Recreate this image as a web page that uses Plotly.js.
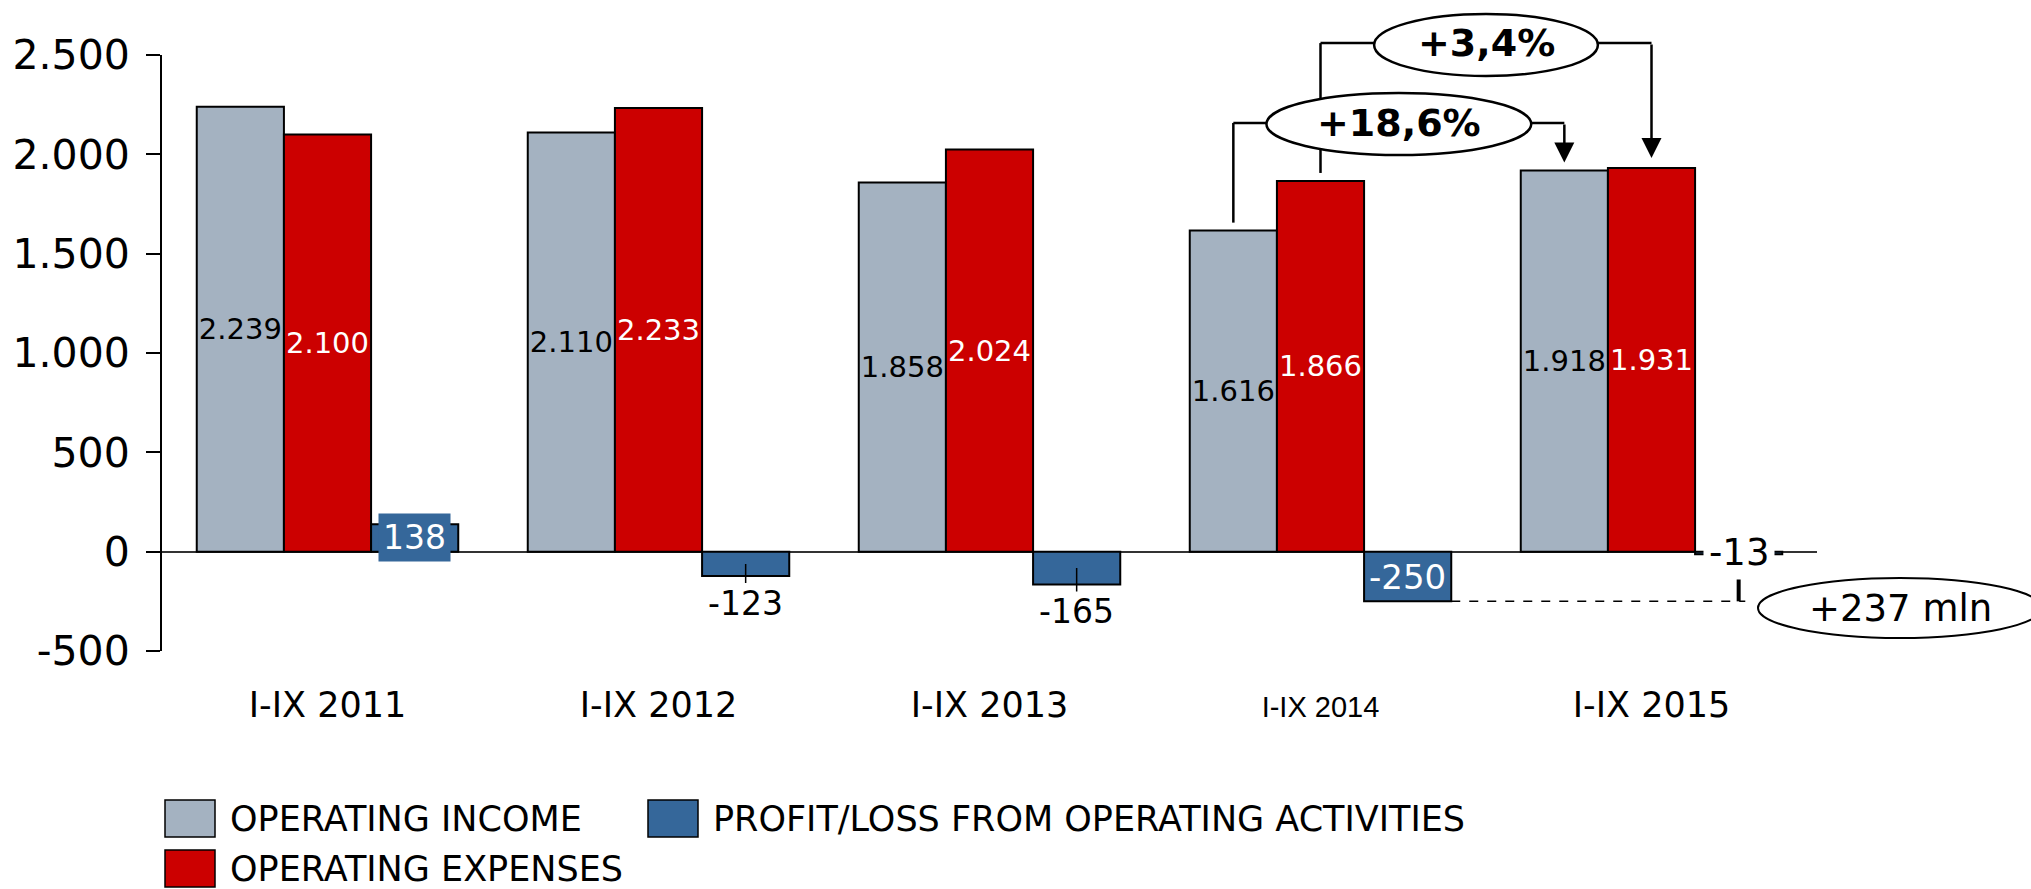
<!DOCTYPE html>
<html><head><meta charset="utf-8">
<script src="https://cdn.plot.ly/plotly-3.0.1.min.js"></script>
<style>html,body{margin:0;padding:0;background:#fff}#chart{width:2031px;height:889px}</style>
</head><body><div id="chart"></div>
<script>
// ---- data ----
const categories = ['I-IX 2011', 'I-IX 2012', 'I-IX 2013', 'I-IX 2014', 'I-IX 2015'];
const tickLabels = ['I-IX 2011', 'I-IX 2012', 'I-IX 2013',
  '<span style="font-family:Liberation Sans;font-size:29px">I-IX 2014</span>', 'I-IX 2015'];
const operatingIncome = [2239, 2110, 1858, 1616, 1918];
const operatingExpenses = [2100, 2233, 2024, 1866, 1931];
const operatingProfit = [138, -123, -165, -250, -13];
const seriesNames = ['OPERATING INCOME', 'OPERATING EXPENSES', 'PROFIT/LOSS FROM OPERATING ACTIVITIES'];
const yTickVals = [-500, 0, 500, 1000, 1500, 2000, 2500];
const yTickText = ['-500', '0', '500', '1.000', '1.500', '2.000', '2.500'];
const incomeChangeLabel = '+18,6%';
const expenseChangeLabel = '+3,4%';

// ---- styling / geometry ----
const FONT = 'DejaVu Sans, Verdana, sans-serif';
const W = 2031, H = 889;
const M = {l: 162, r: 214, t: 55, b: 238};
const plotW = W - M.l - M.r, plotH = H - M.t - M.b;
const yMin = -500, yMax = 2500;
const pxPerUnit = plotH / (yMax - yMin);
const paperY = v => (v - yMin) / (yMax - yMin);
const px2paperX = px => (px - M.l) / plotW;
const px2paperY = py => (H - M.b - py) / plotH;
const BARGAP = 0.21;
const barW = (1 - BARGAP) / 3;
const off = [-barW, 0, barW];
const C_GRAY = '#A4B2C1', C_RED = '#CC0000', C_BLUE = '#35679A';

function fmt(v) {
  const s = Math.abs(v).toString().replace(/\B(?=(\d{3})+(?!\d))/g, '.');
  return (v < 0 ? '-' : '') + s;
}

const traces = [
  {type: 'bar', name: seriesNames[0], x: categories, y: operatingIncome,
   marker: {color: C_GRAY, line: {color: '#000', width: 2}},
   text: operatingIncome.map(fmt), texttemplate: '%{text}', textposition: 'inside',
   insidetextanchor: 'middle', textangle: 0, constraintext: 'none',
   insidetextfont: {family: FONT, size: 29, color: '#000'}, hoverinfo: 'skip'},
  {type: 'bar', name: seriesNames[1], x: categories, y: operatingExpenses,
   marker: {color: C_RED, line: {color: '#000', width: 2}},
   text: operatingExpenses.map(fmt), texttemplate: '%{text}', textposition: 'inside',
   insidetextanchor: 'middle', textangle: 0, constraintext: 'none',
   insidetextfont: {family: FONT, size: 29, color: '#fff'}, hoverinfo: 'skip'},
  {type: 'bar', name: seriesNames[2], x: categories, y: operatingProfit,
   marker: {color: C_BLUE, line: {color: '#000', width: 2}},
   textposition: 'none', hoverinfo: 'skip'}
];

// label styles for the profit series
const profitLabelStyle = ['boxBlue', 'below', 'below', 'inside', 'boxWhite'];
const annotations = [];
operatingProfit.forEach((v, i) => {
  const st = profitLabelStyle[i];
  const a = {x: i + off[2], y: v / 2, xref: 'x', yref: 'y', text: fmt(v), showarrow: false,
             font: {family: FONT, size: 33, color: '#fff'}, xanchor: 'center', yanchor: 'middle'};
  if (st === 'boxBlue') { a.bgcolor = C_BLUE; a.borderpad = 4; }
  else if (st === 'inside') { a.font.size = 34; }
  else if (st === 'boxWhite') { a.bgcolor = '#fff'; a.borderpad = 5; a.font = {family: FONT, size: 37, color: '#000'}; }
  else if (st === 'below') {
    a.font.color = '#000'; a.showarrow = true; a.arrowhead = 0; a.arrowwidth = 1.5; a.arrowcolor = '#000';
    a.ax = 0; a.ay = Math.abs(v) / 2 * pxPerUnit + 27; a.borderpad = 0; a.standoff = 0;
  }
  annotations.push(a);
});

// change brackets
const bracketTopY = 2560, bracketLowY = 2158, gapUnits = 8 / pxPerUnit;
[[0, operatingIncome, bracketLowY, 8], [1, operatingExpenses, bracketTopY, 10]].forEach(([s, arr, by, so]) => {
  annotations.push({x: 4 + off[s], y: arr[4], xref: 'x', yref: 'y', text: '', showarrow: true,
    ax: 0, ay: (arr[4] - by) * pxPerUnit, arrowhead: 2, arrowsize: 1.6, arrowwidth: 2.5,
    arrowcolor: '#000', standoff: so});
});
annotations.push({x: 3.5 + off[0], y: paperY(bracketLowY), xref: 'x', yref: 'paper',
  xanchor: 'center', yanchor: 'middle',
  text: '<b>' + incomeChangeLabel + '</b>', showarrow: false, font: {family: FONT, size: 38, color: '#000'}});
annotations.push({x: 3.5 + off[1], y: paperY(bracketTopY), xref: 'x', yref: 'paper',
  xanchor: 'center', yanchor: 'middle',
  text: '<b>' + expenseChangeLabel + '</b>', showarrow: false, font: {family: FONT, size: 38, color: '#000'}});
annotations.push({x: px2paperX(1900), y: px2paperY(608), xref: 'paper', yref: 'paper',
  xanchor: 'center', yanchor: 'middle',
  text: '+' + (operatingProfit[4] - operatingProfit[3]) + ' mln', showarrow: false,
  font: {family: FONT, size: 37, color: '#000'}});

const line = (x0, y0, x1, y1, extra) => Object.assign({type: 'line', xref: 'x', yref: 'paper', x0, y0, x1, y1,
  line: {color: '#000', width: 2.5}}, extra || {});
const shapes = [
  // +3,4% bracket (expenses 2014 -> 2015)
  line(3 + off[1], paperY(bracketTopY), 4 + off[1], paperY(bracketTopY)),
  line(3 + off[1], paperY(operatingExpenses[3] + gapUnits), 3 + off[1], paperY(bracketTopY)),
  // +18,6% bracket (income 2014 -> 2015)
  line(3 + off[0], paperY(bracketLowY), 4 + off[0], paperY(bracketLowY)),
  line(3 + off[0], paperY(operatingIncome[3] + gapUnits), 3 + off[0], paperY(bracketLowY)),
  // ellipses
  {type: 'circle', xref: 'x', yref: 'paper', x0: 3.5 + off[1] - 0.338, x1: 3.5 + off[1] + 0.338,
   y0: px2paperY(76), y1: px2paperY(14), fillcolor: '#fff', line: {color: '#000', width: 2.5}},
  {type: 'circle', xref: 'x', yref: 'paper', x0: 3.5 + off[0] - 0.4, x1: 3.5 + off[0] + 0.4,
   y0: px2paperY(155), y1: px2paperY(93), fillcolor: '#fff', line: {color: '#000', width: 2.5}},
  // -250 -> -13 difference marker
  {type: 'line', xref: 'x', yref: 'y', x0: 3 + off[2] + barW / 2, x1: 4 + off[2] + 0.02,
   y0: operatingProfit[3], y1: operatingProfit[3], line: {color: '#000', width: 1.5, dash: 'dash'}},
  {type: 'line', xref: 'x', yref: 'y', x0: 4 + off[2], x1: 4 + off[2],
   y0: operatingProfit[3], y1: operatingProfit[4] / 2, line: {color: '#000', width: 4}},
  {type: 'circle', xref: 'paper', yref: 'paper', x0: px2paperX(1758), x1: px2paperX(2042),
   y0: px2paperY(638), y1: px2paperY(578), fillcolor: '#fff', line: {color: '#000', width: 2}}
];

// manual legend (large swatches)
const legendItems = [
  {name: seriesNames[0], color: C_GRAY, x: 165, y: 800},
  {name: seriesNames[2], color: C_BLUE, x: 648, y: 800},
  {name: seriesNames[1], color: C_RED, x: 165, y: 850}
];
legendItems.forEach(it => {
  shapes.push({type: 'rect', xref: 'paper', yref: 'paper', x0: px2paperX(it.x), x1: px2paperX(it.x + 50),
    y0: px2paperY(it.y + 37), y1: px2paperY(it.y), fillcolor: it.color, line: {color: '#000', width: 1.5}});
  annotations.push({xref: 'paper', yref: 'paper', x: px2paperX(it.x + 63), y: px2paperY(it.y + 19),
    xanchor: 'left', yanchor: 'middle', text: it.name, showarrow: false,
    font: {family: FONT, size: 35, color: '#000'}});
});

const layout = {
  width: W, height: H, margin: M, paper_bgcolor: '#fff', plot_bgcolor: 'rgba(0,0,0,0)',
  barmode: 'group', bargap: BARGAP, bargroupgap: 0, showlegend: false,
  font: {family: FONT, color: '#000'},
  xaxis: {type: 'category', range: [-0.5, 4.5], tickmode: 'array', tickvals: categories, ticktext: tickLabels,
    showgrid: false, zeroline: false, showline: false, ticks: '', ticklabelstandoff: 30,
    tickfont: {family: FONT, size: 35, color: '#000'}, fixedrange: true},
  yaxis: {range: [yMin, yMax], tickmode: 'array', tickvals: yTickVals, ticktext: yTickText,
    ticks: 'outside', ticklen: 14, tickwidth: 2, tickcolor: '#000',
    showline: true, linewidth: 2, linecolor: '#000', showgrid: false,
    zeroline: true, zerolinecolor: '#333', zerolinewidth: 2, ticklabelstandoff: 8,
    tickfont: {family: FONT, size: 41, color: '#000'}, fixedrange: true},
  shapes, annotations
};

Plotly.newPlot('chart', traces, layout, {staticPlot: true, displayModeBar: false});
</script>
</body></html>
